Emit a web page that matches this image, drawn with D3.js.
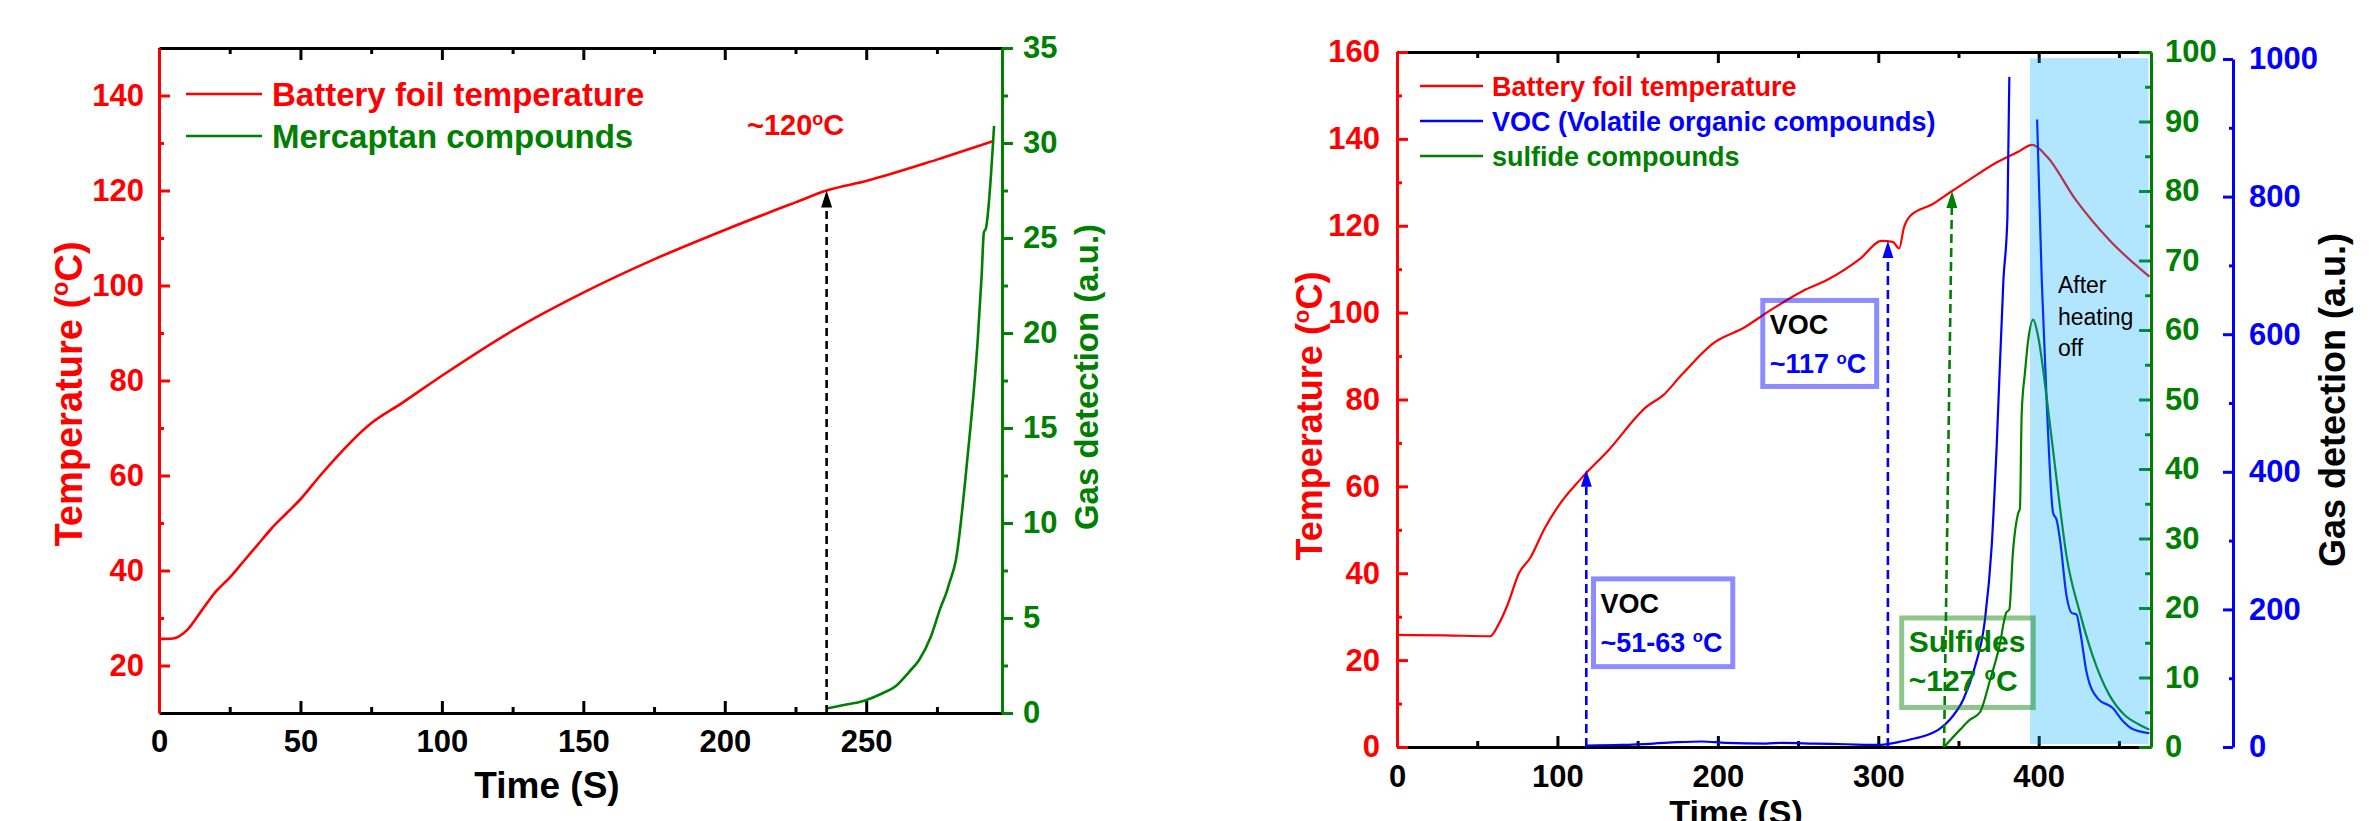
<!DOCTYPE html>
<html>
<head>
<meta charset="utf-8">
<script src="https://cdn.jsdelivr.net/npm/d3@7"></script>
<style>
  body { margin: 0; background: #fff; }
  svg text { font-family: "Liberation Sans", Arial, sans-serif; font-weight: bold; }
  svg text.plain { font-weight: normal; }
</style>
</head>
<body>
<svg id="chart" width="2376" height="821"></svg>
<script>
// ---------- left panel data ----------
const leftTime = [0, 5, 10, 15, 20, 25, 30, 35, 40, 45, 50, 57, 75, 86, 100, 125, 150, 175, 200, 225, 236, 250, 275, 295];
const leftTemp = [25.6, 25.7, 27.5, 31.5, 35.5, 38.5, 42, 45.5, 49, 52, 55, 60, 71, 75.3, 81, 90.5, 98.5, 105.5, 111.7, 117.5, 120, 122, 126.5, 130.4];
const mercTime = [236.3, 244, 249.3, 255.8, 260.5, 265.2, 268.7, 272.8, 276.4, 278.5, 279.3, 281.7, 285.7, 289.4, 290.8, 291.6, 292.3, 295.2];
const mercGas = [0.25, 0.47, 0.65, 1.04, 1.42, 2.17, 2.79, 4.0, 5.6, 6.4, 6.8, 8.05, 13.3, 19.6, 23, 25.3, 25.5, 30.9];

const leftXTicks = [0, 50, 100, 150, 200, 250];
const leftXMinor = [25, 75, 125, 175, 225, 275];
const leftTTicks = [20, 40, 60, 80, 100, 120, 140];
const leftTMinor = [30, 50, 70, 90, 110, 130];
const leftGTicks = [0, 5, 10, 15, 20, 25, 30, 35];
const leftGMinor = [2.5, 7.5, 12.5, 17.5, 22.5, 27.5, 32.5];

// ---------- right panel data ----------
const rightTime = [0, 30, 58, 63, 69, 76, 83, 92, 101, 114, 132, 155.8, 166, 177, 197.3, 217, 230.5, 253, 268, 289, 302, 309, 313, 316, 320, 334, 346, 356, 374, 387, 396, 405, 423, 444, 469];
const rightTemp = [25.8, 25.7, 25.5, 28, 32.8, 40, 43.5, 50.3, 55.7, 61.5, 68.4, 78.4, 81, 85.5, 93, 96.7, 100, 105, 107.5, 112.5, 116.5, 116.3, 114.8, 119.6, 122.3, 125, 128, 130.4, 134.6, 137, 138.6, 136, 126, 116.7, 108.3];
const vocTime = [118, 140, 160, 175, 190, 205, 230, 240, 260, 280, 300, 310, 320, 330, 338, 344.7, 353, 360.3, 366.5, 370.7, 373.8, 378, 380.5, 381.7, 390, 399, 401.9, 405, 409, 411.2, 413.3, 417.4, 420.5, 423.6, 425.7, 429.9, 437, 446, 452.3, 458.5, 469];
const vocGas = [2, 3, 5, 7, 8, 6, 5, 6, 5, 4, 3, 6, 11, 17, 26, 40, 69, 117, 185, 292, 437, 679, 770, 974, null, 912, 679, 500, 340, 330, 301, 219, 195, 192.5, 170, 108, 70, 57, 38, 26, 20];
const sulfTime = [341, 351, 357, 363.4, 369.5, 375.5, 379.7, 381.7, 383.9, 387.3, 388.3, 389.4, 391.5, 393.5, 396.6, 399.7, 404.9, 411.2, 417.4, 425.7, 436, 444, 454, 462, 469];
const sulfGas = [0, 2.5, 3.9, 5, 9.5, 14.5, 19.3, 19.8, 27.9, 33.7, 34.3, 48, 54, 58.6, 61.5, 59, 50.4, 38.4, 27.4, 19.3, 11.6, 7.5, 4.5, 3.3, 2.5];

const rightXTicks = [0, 100, 200, 300, 400];
const rightXMinor = [50, 150, 250, 350, 450];
const rightTTicks = [0, 20, 40, 60, 80, 100, 120, 140, 160];
const rightTMinor = [10, 30, 50, 70, 90, 110, 130, 150];
const rightGTicks = [0, 10, 20, 30, 40, 50, 60, 70, 80, 90, 100];
const rightGMinor = [5, 15, 25, 35, 45, 55, 65, 75, 85, 95];
const rightBTicks = [0, 200, 400, 600, 800, 1000];
const rightBMinor = [100, 300, 500, 700, 900];

const RED = "#ff0000", GREEN = "#008000", BLUE = "#0000ff";

const zip = (xs, ys) => xs.map((x, i) => [x, ys[i]]);
const svg = d3.select("#chart");
svg.append("rect").attr("width", 2376).attr("height", 821).attr("fill", "#fff");

// draws one axis with major + minor ticks
function drawAxis(g, make, scale, at, major, minor, size, minorSize, color, pad, labels) {
    const vertical = (make === d3.axisLeft || make === d3.axisRight);
    const ax = g.append("g")
        .attr("transform", vertical ? `translate(${at},0)` : `translate(0,${at})`);
    ax.call(make(scale).tickValues(major).tickSize(size).tickSizeOuter(0)
        .tickPadding(pad).tickFormat(labels ? d3.format("") : () => ""));
    ax.append("g").call(make(scale).tickValues(minor).tickSize(minorSize).tickSizeOuter(0).tickFormat(() => ""))
        .select(".domain").remove();
    ax.selectAll("path, line").attr("stroke", color).attr("stroke-width", 3);
    ax.selectAll("text").attr("fill", color).attr("font-size", 31)
        .attr("font-family", "Liberation Sans, Arial, sans-serif").attr("font-weight", "bold");
    return ax;
}

function degText(t, pre, post, fs) {
    t.append("tspan").text(pre);
    t.append("tspan").attr("font-size", fs * 0.62).attr("dy", -fs * 0.36).text("o");
    t.append("tspan").attr("dy", fs * 0.36).text("C" + post);
    return t;
}

function arrow(g, x0, y0, x1, y1, color, dash) {
    const ang = Math.atan2(y1 - y0, x1 - x0);
    const len = 17, half = 5.5;
    const bx = x1 - len * Math.cos(ang), by = y1 - len * Math.sin(ang);
    g.append("line").attr("x1", x0).attr("y1", y0).attr("x2", bx).attr("y2", by)
        .attr("stroke", color).attr("stroke-width", 2.6).attr("stroke-dasharray", dash);
    const px = -Math.sin(ang) * half, py = Math.cos(ang) * half;
    g.append("path")
        .attr("d", `M${x1},${y1}L${bx + px},${by + py}L${bx - px},${by - py}Z`)
        .attr("fill", color);
}

// ================= LEFT PANEL =================
const xL = d3.scaleLinear([0, 298], [159, 1002]);
const yLT = d3.scaleLinear([10, 150], [713, 48]);
const yLG = d3.scaleLinear([0, 35], [713, 48]);
const gl = svg.append("g");

drawAxis(gl, d3.axisTop, xL, 48, leftXTicks, leftXMinor, -12, -6, "#000", 0, false);
drawAxis(gl, d3.axisBottom, xL, 713, leftXTicks, leftXMinor, -12, -6, "#000", 17, true);
drawAxis(gl, d3.axisLeft, yLT, 159, leftTTicks, leftTMinor, -11, -5, RED, 15, true);
drawAxis(gl, d3.axisRight, yLG, 1002, leftGTicks, leftGMinor, 11, 6, GREEN, 10, true);

const lineL = d3.line().curve(d3.curveMonotoneX).x(d => xL(d[0])).y(d => yLT(d[1]));
gl.append("path").attr("d", lineL(zip(leftTime, leftTemp)))
    .attr("fill", "none").attr("stroke", RED).attr("stroke-width", 2.6);
const lineLG = d3.line().curve(d3.curveMonotoneX).x(d => xL(d[0])).y(d => yLG(d[1]));
gl.append("path").attr("d", lineLG(zip(mercTime, mercGas)))
    .attr("fill", "none").attr("stroke", GREEN).attr("stroke-width", 2.6);

arrow(gl, xL(236), yLT(10), xL(236), yLT(120), "#000", "8,5");

gl.append("text").attr("x", 747).attr("y", 135).attr("fill", RED).attr("font-size", 29)
    .call(t => degText(t, "~120", "", 29));

// legend
[["Battery foil temperature", RED, 94], ["Mercaptan compounds", GREEN, 136]].forEach(([label, c, y]) => {
    gl.append("line").attr("x1", 186).attr("x2", 262).attr("y1", y).attr("y2", y)
        .attr("stroke", c).attr("stroke-width", 2.6);
    gl.append("text").attr("x", 272).attr("y", y).attr("dy", "0.36em").attr("fill", c)
        .attr("font-size", 33).text(label);
});

gl.append("text").attr("transform", "translate(82,394) rotate(-90)").attr("text-anchor", "middle")
    .attr("fill", RED).attr("font-size", 38).call(t => degText(t, "Temperature (", ")", 38));
gl.append("text").attr("transform", "translate(1098,377) rotate(-90)").attr("text-anchor", "middle")
    .attr("fill", GREEN).attr("font-size", 33).text("Gas detection (a.u.)");
gl.append("text").attr("x", 547).attr("y", 798).attr("text-anchor", "middle")
    .attr("fill", "#000").attr("font-size", 37).text("Time (S)");

// ================= RIGHT PANEL =================
const xR = d3.scaleLinear([0, 470], [1397, 2151]);
const yRT = d3.scaleLinear([0, 160], [747, 52]);
const yRG = d3.scaleLinear([0, 100], [747, 52]);
const yRB = d3.scaleLinear([0, 1000], [747, 59]);
const gr = svg.append("g");

drawAxis(gr, d3.axisTop, xR, 52, rightXTicks, rightXMinor, -11, -6, "#000", 0, false);
drawAxis(gr, d3.axisBottom, xR, 747, rightXTicks, rightXMinor, -11, -6, "#000", 18, true);
drawAxis(gr, d3.axisLeft, yRT, 1397, rightTTicks, rightTMinor, -11, -5, RED, 17, true);
drawAxis(gr, d3.axisRight, yRG, 2151, rightGTicks, rightGMinor, -12, -6, GREEN, 14, true);
drawAxis(gr, d3.axisRight, yRB, 2233, rightBTicks, rightBMinor, -10, -4, BLUE, 16, true);

const lineRT = d3.line().curve(d3.curveMonotoneX).x(d => xR(d[0])).y(d => yRT(d[1]));
gr.append("path").attr("d", lineRT(zip(rightTime, rightTemp)))
    .attr("fill", "none").attr("stroke", RED).attr("stroke-width", 2.2);
const lineRB = d3.line().curve(d3.curveMonotoneX).defined(d => d[1] != null).x(d => xR(d[0])).y(d => yRB(d[1]));
gr.append("path").attr("d", lineRB(zip(vocTime, vocGas)))
    .attr("fill", "none").attr("stroke", BLUE).attr("stroke-width", 2.2);
const lineRG = d3.line().curve(d3.curveMonotoneX).x(d => xR(d[0])).y(d => yRG(d[1]));
gr.append("path").attr("d", lineRG(zip(sulfTime, sulfGas)))
    .attr("fill", "none").attr("stroke", GREEN).attr("stroke-width", 2.2);

arrow(gr, xR(118), yRT(0), xR(118), yRT(63.8), BLUE, "9,5");
arrow(gr, xR(306), yRT(0), xR(306), yRT(116.5), BLUE, "9,5");
arrow(gr, xR(341), yRT(0), xR(346), yRT(128), GREEN, "9,5");

// heating-off shading
gr.append("rect").attr("x", xR(394.6)).attr("width", xR(468.5) - xR(394.6))
    .attr("y", yRT(158.6)).attr("height", yRT(0.7) - yRT(158.6))
    .attr("fill", "#00a8fc").attr("fill-opacity", 0.3);

gr.append("text").attr("class", "plain").attr("x", xR(412)).attr("y", yRT(104.5)).attr("fill", "#000")
    .attr("font-size", 23)
    .selectAll("tspan").data(["After", "heating", "off"]).join("tspan")
    .attr("x", xR(412)).attr("dy", (d, i) => i ? 31.5 : 0).text(d => d);

// annotation boxes
function annBox(x0, x1, t0, t1, color, line1, line2, c1, c2, fs) {
    const bx = xR(x0), by = yRT(t0), bw = xR(x1) - bx, bh = yRT(t1) - by;
    gr.append("rect").attr("x", bx).attr("y", by).attr("width", bw).attr("height", bh)
        .attr("fill", "none").attr("stroke", color).attr("stroke-opacity", 0.45).attr("stroke-width", 5);
    gr.append("text").attr("x", bx + 7).attr("y", by + 34).attr("fill", c1).attr("font-size", fs).text(line1);
    gr.append("text").attr("x", bx + 7).attr("y", by + 73).attr("fill", c2).attr("font-size", fs)
        .call(t => degText(t, line2, "", fs));
}
annBox(122.5, 209.3, 38.7, 18.5, BLUE, "VOC", "~51-63 ", "#000", BLUE, 27);
annBox(228, 299, 102.8, 83, BLUE, "VOC", "~117 ", "#000", BLUE, 27);
annBox(314.6, 396.6, 29.7, 9.1, GREEN, "Sulfides", "~127 ", GREEN, GREEN, 30);

// legend
[["Battery foil temperature", RED, 86], ["VOC (Volatile organic compounds)", BLUE, 121], ["sulfide compounds", GREEN, 156]]
    .forEach(([label, c, y]) => {
        gr.append("line").attr("x1", 1420).attr("x2", 1483).attr("y1", y).attr("y2", y)
            .attr("stroke", c).attr("stroke-width", 2.6);
        gr.append("text").attr("x", 1492).attr("y", y).attr("dy", "0.36em").attr("fill", c)
            .attr("font-size", 27).text(label);
    });

gr.append("text").attr("transform", "translate(1322,416) rotate(-90)").attr("text-anchor", "middle")
    .attr("fill", RED).attr("font-size", 36).call(t => degText(t, "Temperature (", ")", 36));
gr.append("text").attr("transform", "translate(2345,400) rotate(-90)").attr("text-anchor", "middle")
    .attr("fill", "#000").attr("font-size", 36).text("Gas detection (a.u.)");
gr.append("text").attr("x", 1736).attr("y", 824).attr("text-anchor", "middle")
    .attr("fill", "#000").attr("font-size", 34).text("Time (S)");
</script>
</body>
</html>
